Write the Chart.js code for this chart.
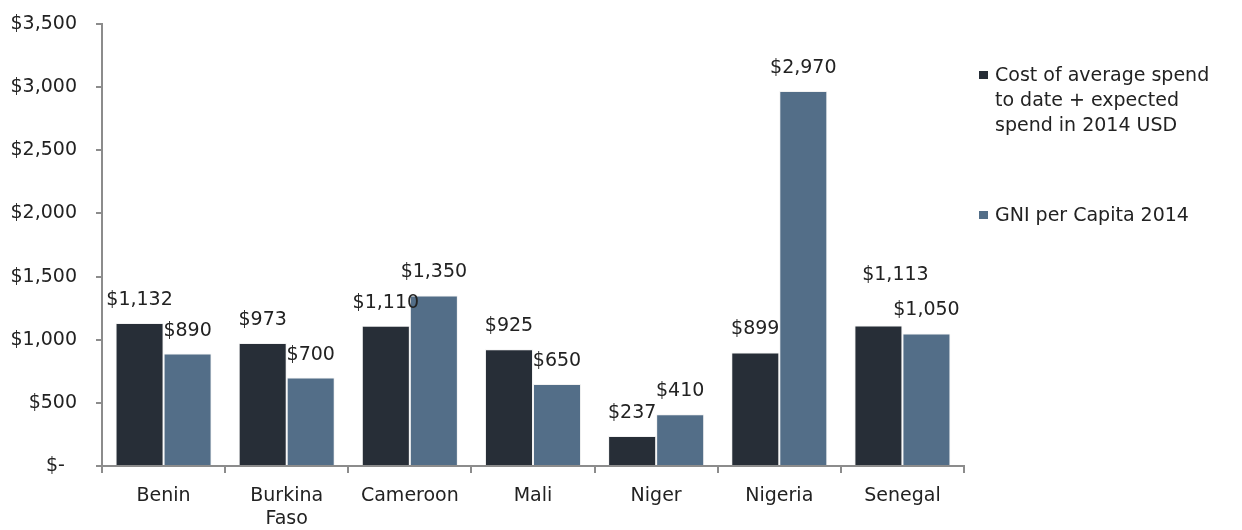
<!DOCTYPE html>
<html>
<head>
<meta charset="utf-8">
<script src="https://cdn.jsdelivr.net/npm/chart.js@4/dist/chart.umd.min.js"></script>
<style>
  html, body { margin: 0; padding: 0; background: #fff; }
  #wrap { position: relative; width: 1242px; height: 530px; }
  #legend { position: absolute; left: 978px; top: 0; font-family: "DejaVu Sans", sans-serif; font-size: 19px; color: #222; }
  .item { position: absolute; left: 0; width: 242px; line-height: 25px; padding-left: 17px; box-sizing: border-box; }
  .box { position: absolute; left: 1px; top: 9px; width: 9px; height: 8px; }
</style>
</head>
<body>
<div id="wrap">
  <canvas id="chart" width="1242" height="530"></canvas>
  <div id="legend"></div>
</div>
<script>
const countries = ["Benin", ["Burkina", "Faso"], "Cameroon", "Mali", "Niger", "Nigeria", "Senegal"];
const spendLabel = "Cost of average spend to date + expected spend in 2014 USD";
const gniLabel = "GNI per Capita 2014";
const spend = [1132, 973, 1110, 925, 237, 899, 1113];
const gni = [890, 700, 1350, 650, 410, 2970, 1050];
const yTicks = [0, 500, 1000, 1500, 2000, 2500, 3000, 3500];

const darkColor = '#272e37';
const blueColor = '#536e88';
const font = "'DejaVu Sans', sans-serif";

function money(v) {
    return v === 0 ? '$-  ' : '$' + v.toLocaleString('en-US');
}

// data labels drawn above each bar
const barLabels = {
    id: 'barLabels',
    afterDatasetsDraw(chart) {
	const ctx = chart.ctx;
	ctx.save();
	ctx.font = '19px ' + font;
	ctx.fillStyle = '#222';
	ctx.textAlign = 'center';
	ctx.textBaseline = 'middle';
	chart.data.datasets.forEach((ds, di) => {
	    chart.getDatasetMeta(di).data.forEach((bar, i) => {
		let x = bar.x, y = bar.y - 23;
		// Senegal's first label was nudged up in the original
		if (di === 0 && i === 6) { x += 17; y -= 27; }
		ctx.fillText(money(ds.data[i]), x, y);
	    });
	});
	ctx.restore();
    }
};

new Chart(document.getElementById('chart'), {
    type: 'bar',
    data: {
	labels: countries,
	datasets: [
	    {
		label: spendLabel,
		data: spend,
		backgroundColor: darkColor,
		borderColor: '#f2f2f2',
		borderWidth: 1,
		categoryPercentage: 0.78,
		barPercentage: 1
	    },
	    {
		label: gniLabel,
		data: gni,
		backgroundColor: blueColor,
		borderColor: '#f2f2f2',
		borderWidth: 1,
		categoryPercentage: 0.78,
		barPercentage: 1
	    }
	]
    },
    options: {
	responsive: false,
	animation: false,
	layout: { padding: { top: 24, right: 278, bottom: 0, left: 0 } },
	plugins: {
	    legend: { display: false },
	    tooltip: { enabled: false }
	},
	scales: {
	    y: {
		min: 0,
		max: 3500,
		afterFit: s => { s.width = 102; s.paddingTop = 0; s.paddingBottom = 0; },
		afterBuildTicks: s => { s.ticks = yTicks.map(v => ({ value: v })); },
		ticks: {
		    callback: v => money(v),
		    font: { family: font, size: 19 },
		    color: '#222',
		    padding: 19
		},
		grid: {
		    drawOnChartArea: false,
		    tickLength: 6,
		    color: '#8c8c8c',
		    lineWidth: 2
		},
		border: { color: '#8c8c8c', width: 2 }
	    },
	    x: {
		afterFit: s => { s.height = 64; },
		ticks: {
		    font: { family: font, size: 19, lineHeight: 1.22 },
		    color: '#222',
		    padding: 11,
		    maxRotation: 0
		},
		grid: {
		    drawOnChartArea: false,
		    tickLength: 7,
		    color: '#8c8c8c',
		    lineWidth: 2
		},
		border: { color: '#8c8c8c', width: 2 }
	    }
	}
    },
    plugins: [barLabels]
});

// legend at the right
const legend = document.getElementById('legend');
[[spendLabel, darkColor, 62], [gniLabel, blueColor, 202]].forEach(([text, color, top]) => {
    const item = document.createElement('div');
    item.className = 'item';
    item.style.top = top + 'px';
    item.innerHTML = '<span class="box" style="background:' + color + '"></span>';
    item.appendChild(document.createTextNode(text));
    legend.appendChild(item);
});
</script>
</body>
</html>
